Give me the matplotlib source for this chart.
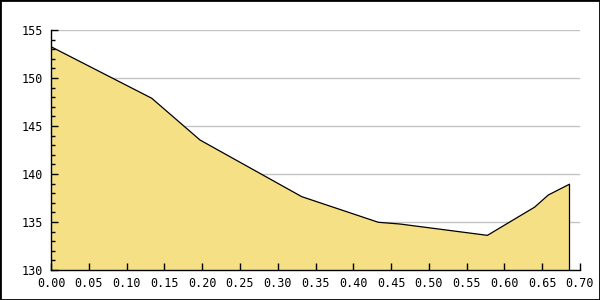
import matplotlib
matplotlib.use("Agg")
import matplotlib.pyplot as plt
from matplotlib.ticker import MultipleLocator, FormatStrFormatter
from matplotlib.patches import Rectangle

x_vals = [0.0, 0.1333, 0.1972, 0.3318, 0.4331, 0.4618, 0.5775, 0.640, 0.658, 0.6859]
y_vals = [153.26, 147.89, 143.54, 137.64, 134.97, 134.79, 133.61, 136.55, 137.81, 138.93]

x_ticks = [0.00, 0.05, 0.10, 0.15, 0.20, 0.25, 0.30, 0.35, 0.40, 0.45, 0.50, 0.55, 0.60, 0.65, 0.70]
y_ticks = [130, 135, 140, 145, 150, 155]

fill_color = "#F6E086"
grid_color = "#C4C4C4"

fig = plt.figure(figsize=(6, 3), dpi=100)
fig.patch.set_facecolor("white")
ax = fig.add_axes([51/600, 1 - 270/300, 529/600, 240/300])

ax.set_xlim(0, 0.70)
ax.set_ylim(130, 155)

for t in y_ticks[1:]:
    ax.axhline(t, color=grid_color, lw=1, zorder=0.3)

base = ax.get_ylim()[0]
poly_x = [x_vals[0]] + list(x_vals) + [x_vals[-1]]
poly_y = [base] + list(y_vals) + [base]
ax.fill(poly_x, poly_y, facecolor=fill_color, edgecolor="none", zorder=1)
ax.plot(x_vals, y_vals, color="black", lw=0.9, zorder=2)
ax.vlines(x_vals[-1], base, y_vals[-1], color="black", lw=0.9, zorder=2)

ax.set_xticks(x_ticks)
ax.set_yticks(y_ticks)
ax.xaxis.set_major_formatter(FormatStrFormatter("%.2f"))
ax.yaxis.set_major_formatter(FormatStrFormatter("%d"))
ax.yaxis.set_minor_locator(MultipleLocator(1))

for s in ["top", "right"]:
    ax.spines[s].set_visible(False)
for s in ["left", "bottom"]:
    ax.spines[s].set_linewidth(1)
    ax.spines[s].set_zorder(3)

ax.tick_params(axis="both", which="major", direction="in", length=5, width=1,
               labelsize=8.5, colors="black")
ax.tick_params(axis="y", which="minor", direction="in", length=3, width=1)
ax.tick_params(axis="y", which="major", pad=6)
ax.tick_params(axis="x", which="major", pad=5)
for lab in ax.get_xticklabels() + ax.get_yticklabels():
    lab.set_family("DejaVu Sans Mono")

fig.patches.append(Rectangle((0, 0), 1, 1, transform=fig.transFigure,
                             fill=False, edgecolor="black", lw=2, zorder=10))

fig.savefig("out.png", dpi=100, facecolor="white")
